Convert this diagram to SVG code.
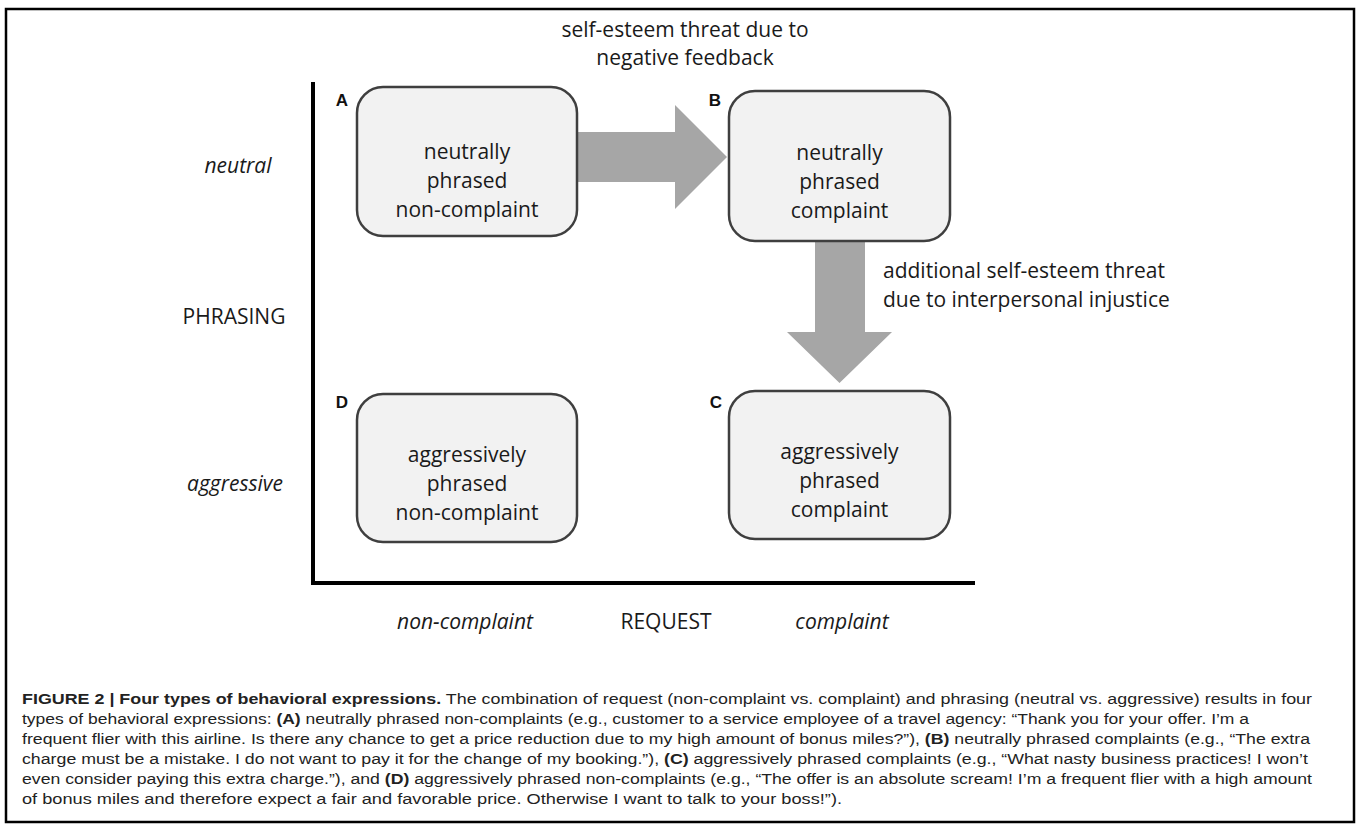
<svg xmlns="http://www.w3.org/2000/svg" width="1359" height="828" viewBox="0 0 1359 828">
<style>
.t{font-family:"Open Sans","Noto Sans",sans-serif;font-size:21px;fill:#1a1a1a}
.i{font-style:italic}
.m{text-anchor:middle}
.lab{font-family:"Liberation Sans",Arial,sans-serif;font-weight:bold;font-size:17px;fill:#111;text-anchor:middle}
.box{fill:#f2f2f2;stroke:#3f3f3f;stroke-width:2.5}
.arr{fill:#a6a6a6}
.cap{font-family:"Liberation Sans",Arial,sans-serif;font-size:15.5px;fill:#222}
.b{font-weight:bold}
</style>
<rect width="1359" height="828" fill="#fff"/>
<rect x="6" y="9" width="1348" height="813" fill="none" stroke="#000" stroke-width="2.5"/>
<g id="axes">
<line x1="313" y1="82" x2="313" y2="585" stroke="#000" stroke-width="4"/>
<line x1="311" y1="583" x2="975" y2="583" stroke="#000" stroke-width="4"/>
</g>
<g id="axis-labels">
<text class="t i m" x="238" y="173">neutral</text>
<text class="t m" x="234" y="324">PHRASING</text>
<text class="t i m" x="235" y="491">aggressive</text>
<text class="t i m" x="465" y="629">non-complaint</text>
<text class="t m" x="666" y="629">REQUEST</text>
<text class="t i m" x="842" y="629">complaint</text>
</g>
<g id="connectors">
<polygon class="arr" points="578,132 675,132 675,105 727,157 675,209 675,182 578,182"/>
<polygon class="arr" points="815,241 865,241 865,332 892,332 839.5,383 787,332 815,332"/>
<text class="t m" x="685" y="37">self-esteem  threat due to</text>
<text class="t m" x="685" y="65">negative feedback</text>
<text class="t" x="883" y="278">additional self-esteem  threat</text>
<text class="t" x="883" y="307">due to interpersonal  injustice</text>
</g>
<g id="nodeA">
<rect class="box" x="357" y="87" width="220" height="149" rx="26"/>
<text class="lab" x="342" y="106">A</text>
<text class="t m" x="467" y="159">neutrally</text>
<text class="t m" x="467" y="188">phrased</text>
<text class="t m" x="467" y="217">non-complaint</text>
</g>
<g id="nodeB">
<rect class="box" x="729" y="91" width="221" height="150" rx="26"/>
<text class="lab" x="715" y="106">B</text>
<text class="t m" x="839.5" y="160">neutrally</text>
<text class="t m" x="839.5" y="189">phrased</text>
<text class="t m" x="839.5" y="218">complaint</text>
</g>
<g id="nodeC">
<rect class="box" x="729" y="391" width="221" height="148" rx="26"/>
<text class="lab" x="716" y="408">C</text>
<text class="t m" x="839.5" y="459">aggressively</text>
<text class="t m" x="839.5" y="488">phrased</text>
<text class="t m" x="839.5" y="517">complaint</text>
</g>
<g id="nodeD">
<rect class="box" x="357" y="394" width="220" height="148" rx="26"/>
<text class="lab" x="342" y="408">D</text>
<text class="t m" x="467" y="462">aggressively</text>
<text class="t m" x="467" y="491">phrased</text>
<text class="t m" x="467" y="520">non-complaint</text>
</g>
<g id="caption">
<text class="cap" x="22" y="704" textLength="1290" lengthAdjust="spacingAndGlyphs"><tspan class="b">FIGURE 2 | Four types of behavioral expressions.</tspan> The combination of request (non-complaint vs. complaint) and phrasing (neutral vs. aggressive) results in four</text>
<text class="cap" x="22" y="724" textLength="1227" lengthAdjust="spacingAndGlyphs">types of behavioral expressions: <tspan class="b">(A)</tspan> neutrally phrased non-complaints (e.g., customer to a service employee of a travel agency: “Thank you for your offer. I’m a</text>
<text class="cap" x="22" y="744" textLength="1288" lengthAdjust="spacingAndGlyphs">frequent flier with this airline. Is there any chance to get a price reduction due to my high amount of bonus miles?”), <tspan class="b">(B)</tspan> neutrally phrased complaints (e.g., “The extra</text>
<text class="cap" x="22" y="764" textLength="1286" lengthAdjust="spacingAndGlyphs">charge must be a mistake. I do not want to pay it for the change of my booking.”), <tspan class="b">(C)</tspan> aggressively phrased complaints (e.g., “What nasty business practices! I won’t</text>
<text class="cap" x="22" y="784" textLength="1290" lengthAdjust="spacingAndGlyphs">even consider paying this extra charge.”), and <tspan class="b">(D)</tspan> aggressively phrased non-complaints (e.g., “The offer is an absolute scream! I’m a frequent flier with a high amount</text>
<text class="cap" x="22" y="804" textLength="820" lengthAdjust="spacingAndGlyphs">of bonus miles and therefore expect a fair and favorable price. Otherwise I want to talk to your boss!”).</text>
</g>
</svg>
